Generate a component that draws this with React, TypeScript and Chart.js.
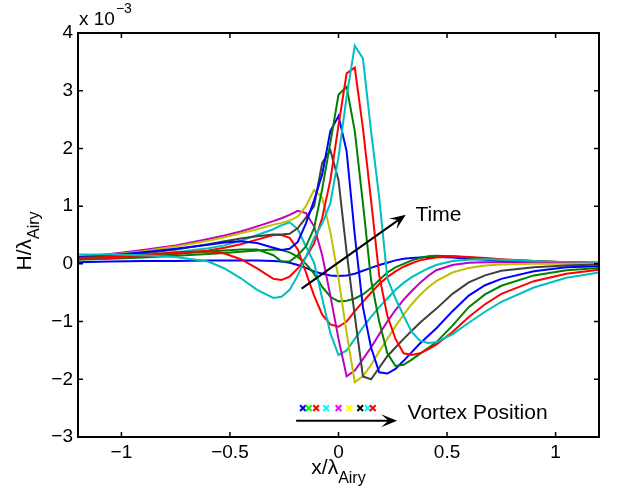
import React, { useEffect, useRef } from "react";
import { Chart, registerables } from "chart.js";

Chart.register(...registerables);

// x positions (x / lambda_Airy) shared by every curve
const xGrid = [-1.2, -1.05, -0.9, -0.75, -0.6, -0.525, -0.45, -0.375, -0.3, -0.2625, -0.225, -0.1875, -0.15, -0.1125, -0.075, -0.0375, 0, 0.0375, 0.075, 0.1125, 0.15, 0.1875, 0.225, 0.2625, 0.3, 0.3375, 0.375, 0.4125, 0.45, 0.525, 0.6, 0.675, 0.75, 0.9, 1.05, 1.2];

// H / lambda_Airy in units of 1e-3, one array per time step
const t1Blue = [0.03, 0.04, 0.05, 0.05, 0.06, 0.06, 0.06, 0.06, 0.05, 0.04, 0.02, -0.02, -0.07, -0.13, -0.17, -0.2, -0.21, -0.2, -0.17, -0.12, -0.07, -0.02, 0.02, 0.06, 0.09, 0.1, 0.11, 0.12, 0.12, 0.11, 0.09, 0.07, 0.05, 0.03, 0.02, 0.01];
const t2Green = [0.07, 0.09, 0.11, 0.14, 0.17, 0.19, 0.21, 0.23, 0.25, 0.24, 0.2, 0.12, 0.0, -0.17, -0.4, -0.57, -0.65, -0.64, -0.6, -0.53, -0.42, -0.28, -0.15, -0.06, 0.0, 0.06, 0.1, 0.13, 0.14, 0.13, 0.11, 0.09, 0.07, 0.05, 0.03, 0.02];
const t3Red = [0.08, 0.1, 0.13, 0.17, 0.23, 0.28, 0.34, 0.42, 0.5, 0.5, 0.45, 0.25, -0.15, -0.55, -0.88, -1.05, -1.09, -1.0, -0.82, -0.66, -0.5, -0.35, -0.23, -0.13, -0.05, 0.01, 0.06, 0.09, 0.11, 0.13, 0.12, 0.1, 0.08, 0.05, 0.03, 0.02];
const t4Cyan = [0.1, 0.12, 0.15, 0.2, 0.27, 0.32, 0.4, 0.5, 0.6, 0.67, 0.72, 0.6, 0.3, 0.02, -0.6, -1.2, -1.58, -1.5, -1.3, -1.1, -0.92, -0.75, -0.6, -0.45, -0.33, -0.23, -0.15, -0.08, -0.02, 0.05, 0.07, 0.08, 0.07, 0.05, 0.03, 0.02];
const t5Magenta = [0.12, 0.17, 0.24, 0.32, 0.43, 0.49, 0.56, 0.65, 0.74, 0.79, 0.85, 0.92, 0.88, 0.65, 0.15, -0.55, -1.3, -1.95, -1.85, -1.65, -1.45, -1.22, -1.0, -0.8, -0.62, -0.47, -0.33, -0.21, -0.11, -0.02, 0.02, 0.03, 0.03, 0.02, 0.01, 0.0];
const t6Yellow = [0.12, 0.16, 0.22, 0.3, 0.4, 0.46, 0.53, 0.6, 0.68, 0.71, 0.75, 0.82, 1.0, 1.28, 1.15, 0.55, -0.25, -1.2, -2.05, -1.95, -1.75, -1.52, -1.3, -1.08, -0.88, -0.7, -0.54, -0.41, -0.3, -0.15, -0.07, -0.03, -0.01, 0.0, 0.0, 0.0];
const t7Grey = [0.1, 0.13, 0.18, 0.25, 0.34, 0.39, 0.44, 0.48, 0.51, 0.51, 0.52, 0.62, 0.8, 1.0, 1.75, 1.97, 1.45, 0.2, -0.9, -1.95, -2.0, -1.8, -1.6, -1.45, -1.3, -1.16, -1.02, -0.9, -0.78, -0.52, -0.32, -0.2, -0.12, -0.06, -0.03, -0.01];
const t8Blue = [0.12, 0.15, 0.2, 0.26, 0.33, 0.37, 0.39, 0.36, 0.28, 0.24, 0.26, 0.38, 0.7, 1.1, 1.55, 2.3, 2.56, 1.95, 0.5, -0.75, -1.45, -1.88, -1.9, -1.82, -1.68, -1.53, -1.38, -1.25, -1.12, -0.82, -0.55, -0.37, -0.26, -0.13, -0.06, -0.04];
const t9Green = [0.1, 0.12, 0.15, 0.18, 0.21, 0.23, 0.25, 0.25, 0.15, 0.04, 0.04, 0.15, 0.3, 0.62, 1.3, 2.1, 2.93, 3.07, 2.3, 1.05, -0.28, -1.0, -1.55, -1.77, -1.75, -1.66, -1.56, -1.46, -1.36, -1.07, -0.75, -0.53, -0.38, -0.2, -0.11, -0.07];
const t10Red = [0.1, 0.12, 0.15, 0.2, 0.22, 0.18, 0.08, -0.08, -0.26, -0.28, -0.22, -0.08, 0.12, 0.35, 0.8, 1.45, 2.4, 3.3, 3.4, 2.35, 1.1, -0.2, -0.9, -1.3, -1.55, -1.58, -1.55, -1.48, -1.4, -1.18, -0.92, -0.7, -0.52, -0.3, -0.17, -0.1];
const t11Cyan = [0.16, 0.16, 0.15, 0.12, 0.04, -0.08, -0.25, -0.45, -0.59, -0.57, -0.45, -0.2, 0.12, 0.45, 0.7, 1.05, 1.85, 2.9, 3.78, 3.56, 2.3, 1.15, -0.25, -0.6, -0.9, -1.18, -1.33, -1.37, -1.36, -1.22, -1.02, -0.83, -0.66, -0.41, -0.24, -0.15];

const seriesValues = [t1Blue, t2Green, t3Red, t4Cyan, t5Magenta, t6Yellow, t7Grey, t8Blue, t9Green, t10Red, t11Cyan];
const seriesColors = ["#0000ff", "#008000", "#ff0000", "#00bfbf", "#bf00bf", "#bfbf00", "#404040", "#0000ff", "#008000", "#ff0000", "#00bfbf"];

// vortex positions (markers)
const vortexX = [-0.164, -0.137, -0.103, -0.057, 0, 0.05, 0.1, 0.135, 0.158];
const vortexLevel = -2.5;
const vortexColors = ["#0000ff", "#00ff00", "#ff0000", "#00ffff", "#ff00ff", "#ffff00", "#000000", "#00ffff", "#ff0000"];

// axes
const xTicks = [-1, -0.5, 0, 0.5, 1];
const xTickLabels = ["\u22121", "\u22120.5", "0", "0.5", "1"];
const yTicks = [-3, -2, -1, 0, 1, 2, 3, 4];
const yTickLabels = ["\u22123", "\u22122", "\u22121", "0", "1", "2", "3", "4"];

// annotations (data coordinates)
const timeArrow = { x1: -0.17, y1: -0.43, x2: 0.31, y2: 0.85, label: "Time", lx: 0.355, ly: 0.85 };
const vortexArrow = { x1: -0.195, y1: -2.72, x2: 0.27, y2: -2.72, label: "Vortex Position", lx: 0.318, ly: -2.58 };

const FONT = '"Liberation Sans", Arial, Helvetica, sans-serif';

function drawArrow(ctx: CanvasRenderingContext2D, x1: number, y1: number, x2: number, y2: number) {
  const ang = Math.atan2(y2 - y1, x2 - x1);
  const c = Math.cos(ang), s = Math.sin(ang);
  const L = 16, W = 6.5, back = 0.55;
  ctx.beginPath();
  ctx.moveTo(x1, y1);
  ctx.lineTo(x2 - L * back * c, y2 - L * back * s);
  ctx.stroke();
  ctx.beginPath();
  ctx.moveTo(x2, y2);
  ctx.lineTo(x2 - L * c - W * s, y2 - L * s + W * c);
  ctx.lineTo(x2 - L * back * c, y2 - L * back * s);
  ctx.lineTo(x2 - L * c + W * s, y2 - L * s - W * c);
  ctx.closePath();
  ctx.fill();
}

const decorPlugin = {
  id: "decor",
  afterDatasetsDraw(chart: any) {
    const { ctx, chartArea: a, scales } = chart;
    const xs = scales.x, ys = scales.y;
    ctx.save();
    ctx.strokeStyle = "#000";
    ctx.fillStyle = "#000";

    // annotations
    ctx.lineWidth = 2;
    for (const ar of [timeArrow, vortexArrow]) {
      drawArrow(ctx, xs.getPixelForValue(ar.x1), ys.getPixelForValue(ar.y1), xs.getPixelForValue(ar.x2), ys.getPixelForValue(ar.y2));
      ctx.font = `21px ${FONT}`;
      ctx.textAlign = "left";
      ctx.textBaseline = "middle";
      ctx.fillText(ar.label, xs.getPixelForValue(ar.lx), ys.getPixelForValue(ar.ly));
    }

    // box
    ctx.lineWidth = 2;
    ctx.strokeRect(a.left, a.top, a.right - a.left, a.bottom - a.top);

    // ticks
    const tl = 5;
    ctx.lineWidth = 1.5;
    ctx.beginPath();
    for (const t of xTicks) {
      const px = xs.getPixelForValue(t);
      ctx.moveTo(px, a.bottom); ctx.lineTo(px, a.bottom - tl);
      ctx.moveTo(px, a.top); ctx.lineTo(px, a.top + tl);
    }
    for (const t of yTicks) {
      const py = ys.getPixelForValue(t);
      ctx.moveTo(a.left, py); ctx.lineTo(a.left + tl, py);
      ctx.moveTo(a.right, py); ctx.lineTo(a.right - tl, py);
    }
    ctx.stroke();

    // tick labels
    ctx.font = `19px ${FONT}`;
    ctx.textAlign = "center";
    ctx.textBaseline = "middle";
    xTicks.forEach((t, i) => ctx.fillText(xTickLabels[i], xs.getPixelForValue(t), a.bottom + 16));
    ctx.textAlign = "right";
    yTicks.forEach((t, i) => ctx.fillText(yTickLabels[i], a.left - 5, ys.getPixelForValue(t)));

    // exponent
    ctx.textAlign = "left";
    ctx.textBaseline = "alphabetic";
    ctx.font = `19px ${FONT}`;
    ctx.fillText("x 10", a.left + 1, 25);
    const w10 = ctx.measureText("x 10").width;
    ctx.font = `14px ${FONT}`;
    ctx.fillText("\u22123", a.left + 2 + w10, 13);

    // x label
    const mainFont = `21px ${FONT}`;
    const subFont = `16px ${FONT}`;
    ctx.font = mainFont;
    const mainX = "x/\u03bb";
    const wMain = ctx.measureText(mainX).width;
    ctx.font = subFont;
    const wSub = ctx.measureText("Airy").width;
    const cx = (a.left + a.right) / 2;
    const sx = cx - (wMain + wSub) / 2;
    ctx.font = mainFont;
    ctx.fillText(mainX, sx, 474);
    ctx.font = subFont;
    ctx.fillText("Airy", sx + wMain, 483);

    // y label
    ctx.save();
    ctx.translate(31, (a.top + a.bottom) / 2 + 6);
    ctx.rotate(-Math.PI / 2);
    ctx.font = mainFont;
    const mainY = "H/\u03bb";
    const wMy = ctx.measureText(mainY).width;
    ctx.font = subFont;
    const wSy = ctx.measureText("Airy").width;
    const sy = -(wMy + wSy) / 2;
    ctx.font = mainFont;
    ctx.fillText(mainY, sy, 0);
    ctx.font = subFont;
    ctx.fillText("Airy", sy + wMy, 8);
    ctx.restore();

    ctx.restore();
  },
};

export default function App() {
  const ref = useRef<HTMLCanvasElement | null>(null);
  useEffect(() => {
    if (!ref.current) return;
    const datasets: any[] = seriesValues.map((vals, i) => ({
      type: "scatter",
      data: xGrid.map((x, k) => ({ x, y: vals[k] })),
      showLine: true,
      borderColor: seriesColors[i],
      backgroundColor: seriesColors[i],
      borderWidth: 2,
      pointRadius: 0,
      tension: 0,
      order: 20 - i,
    }));
    datasets.push({
      type: "scatter",
      data: vortexX.map((x) => ({ x, y: vortexLevel })),
      showLine: false,
      pointStyle: "crossRot",
      pointRadius: 4,
      pointBorderWidth: 2,
      pointBorderColor: vortexColors,
      pointBackgroundColor: vortexColors,
      order: 0,
    });
    const chart = new Chart(ref.current, {
      type: "scatter",
      data: { datasets },
      options: {
        animation: false,
        responsive: false,
        devicePixelRatio: 1,
        layout: { padding: { left: 78, right: 18, top: 33, bottom: 65 } },
        plugins: { legend: { display: false }, tooltip: { enabled: false } },
        events: [],
        scales: {
          x: { type: "linear", min: -1.2, max: 1.2, display: false },
          y: { type: "linear", min: -3, max: 4, display: false },
        },
      },
      plugins: [decorPlugin],
    });
    return () => chart.destroy();
  }, []);
  return (
    <div style={{ position: "absolute", left: 0, top: 0, width: 617, height: 502, background: "#fff" }}>
      <canvas ref={ref} width={617} height={502} style={{ width: 617, height: 502, display: "block" }} />
    </div>
  );
}
